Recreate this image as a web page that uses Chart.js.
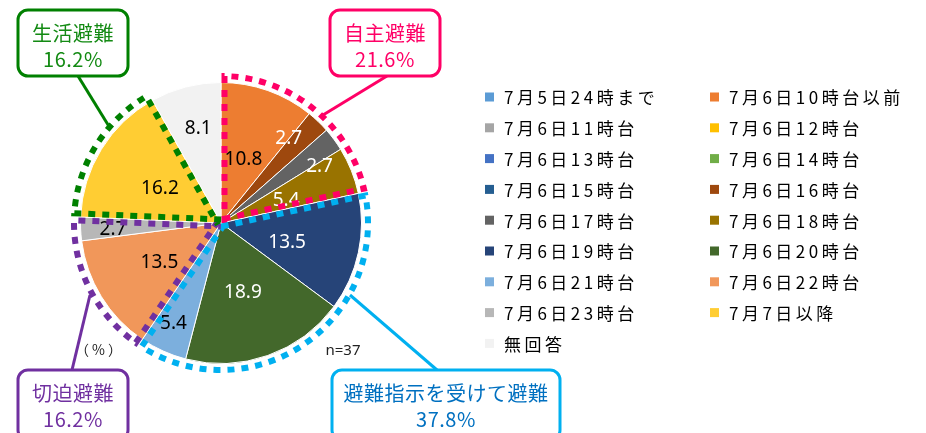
<!DOCTYPE html>
<html lang="ja">
<head>
<meta charset="utf-8">
<title>避難開始時刻</title>
<script src="https://cdn.jsdelivr.net/npm/chart.js@4.4.1/dist/chart.umd.min.js"></script>
<style>
  html, body { margin: 0; padding: 0; background: #fff; }
  #wrap { position: relative; width: 926px; height: 433px; }
</style>
</head>
<body>
<div id="wrap"><canvas id="evacChart" width="926" height="433"></canvas></div>
<script>
// Evacuation start time pie (n=37), values in %

const categories = [
    '7月5日24時まで', '7月6日10時台以前', '7月6日11時台', '7月6日12時台',
    '7月6日13時台', '7月6日14時台', '7月6日15時台', '7月6日16時台',
    '7月6日17時台', '7月6日18時台', '7月6日19時台', '7月6日20時台',
    '7月6日21時台', '7月6日22時台', '7月6日23時台', '7月7日以降', '無回答'
];
const shares = [0, 10.8, 0, 0, 0, 0, 0, 2.7, 2.7, 5.4, 13.5, 18.9, 5.4, 13.5, 2.7, 16.2, 8.1];
const sampleSize = 37;

// evacuation type groups: first / last category index of each
const groupNames = ['自主避難', '避難指示を受けて避難', '切迫避難', '生活避難'];
const groupShares = [21.6, 37.8, 16.2, 16.2];
const groupFirst = [1, 10, 13, 15];
const groupLast = [9, 12, 14, 15];

// --- styling ---
const sliceColors = [
    '#5B9BD5', '#ED7D31', '#A5A5A5', '#FFC000', '#4472C4', '#70AD47',
    '#255E91', '#9E480E', '#636363', '#997300', '#264478', '#43682B',
    '#7CAFDD', '#F1975A', '#B7B7B7', '#FFCD33', '#F2F2F2'
];
const groupColors = ['#FF0066', '#00B0F0', '#7030A0', '#008000'];

// label placement per slice: [fraction of radius, angle nudge in degrees]
const labelPlacement = [
    null, [0.48, 0], null, null, null, null, null, [0.77, -5],
    [0.81, 6.5], [0.49, 3], [0.49, 4], [0.52, 2], [0.79, 1],
    [0.52, -1], [0.77, -1], [0.50, -2], [0.69, 1]
];

// callout boxes: group index, box [x, y, w, h], connector from -> to
const callouts = [
    { group: 3, box: [18, 10, 110, 66], from: [78, 76], to: [110, 128], text: '#138A13' },
    { group: 0, box: [330, 10, 110, 66], from: [387, 76], to: [323, 115], text: '#FF0066' },
    { group: 2, box: [18, 370, 110, 70], from: [72, 370], to: [90, 295], text: '#7030A0' },
    { group: 1, box: [332, 370, 228, 70], from: [437, 370], to: [350, 295], text: '#0070C0' }
];

const JP_FONT = '"Noto Sans CJK JP", "Noto Sans", sans-serif';

function isDark(hex) {
    const r = parseInt(hex.slice(1, 3), 16);
    const g = parseInt(hex.slice(3, 5), 16);
    const b = parseInt(hex.slice(5, 7), 16);
    return 0.299 * r + 0.587 * g + 0.114 * b < 130;
}

const valueLabels = {
    id: 'valueLabels',
    afterDatasetsDraw(chart) {
        const ctx = chart.ctx;
        const meta = chart.getDatasetMeta(0);
        ctx.save();
        ctx.font = '19px "Noto Sans", sans-serif';
        ctx.textAlign = 'center';
        ctx.textBaseline = 'middle';
        meta.data.forEach((arc, i) => {
            if (!shares[i]) return;
            const p = labelPlacement[i];
            const a = (arc.startAngle + arc.endAngle) / 2 + p[1] * Math.PI / 180;
            const r = arc.outerRadius * p[0];
            ctx.fillStyle = isDark(sliceColors[i]) ? '#FFFFFF' : '#000000';
            ctx.fillText(shares[i].toFixed(1), arc.x + r * Math.cos(a), arc.y + r * Math.sin(a));
        });
        ctx.restore();
    }
};

// dotted sector outline around each evacuation group
const groupOutlines = {
    id: 'groupOutlines',
    afterDatasetsDraw(chart) {
        const ctx = chart.ctx;
        const arcs = chart.getDatasetMeta(0).data;
        const cx = arcs[0].x, cy = arcs[0].y;
        const R = arcs[0].outerRadius + 6.5;
        const d = 3.5;
        ctx.save();
        ctx.lineWidth = 6;
        ctx.setLineDash([7, 7]);
        groupNames.forEach((name, g) => {
            const a1 = arcs[groupFirst[g]].startAngle;
            const a2 = arcs[groupLast[g]].endAngle;
            const dl = Math.asin(d / R);
            const L = Math.sqrt(R * R - d * d);
            const n1x = -Math.sin(a1), n1y = Math.cos(a1);
            const n2x = Math.sin(a2), n2y = -Math.cos(a2);
            ctx.strokeStyle = groupColors[g];
            ctx.beginPath();
            ctx.moveTo(cx + d * n1x, cy + d * n1y);
            ctx.lineTo(cx + L * Math.cos(a1) + d * n1x, cy + L * Math.sin(a1) + d * n1y);
            ctx.arc(cx, cy, R, a1 + dl, a2 - dl);
            ctx.lineTo(cx + d * n2x, cy + d * n2y);
            ctx.stroke();
        });
        ctx.restore();
    }
};

const calloutBoxes = {
    id: 'calloutBoxes',
    afterDraw(chart) {
        const ctx = chart.ctx;
        ctx.save();
        callouts.forEach(c => {
            const [x, y, w, h] = c.box;
            ctx.strokeStyle = groupColors[c.group];
            ctx.lineWidth = 3;
            ctx.setLineDash([]);
            ctx.beginPath();
            ctx.moveTo(c.from[0], c.from[1]);
            ctx.lineTo(c.to[0], c.to[1]);
            ctx.stroke();

            ctx.beginPath();
            ctx.roundRect(x, y, w, h, 10);
            ctx.fillStyle = '#FFFFFF';
            ctx.fill();
            ctx.stroke();

            ctx.fillStyle = c.text;
            ctx.font = '20px ' + JP_FONT;
            ctx.textAlign = 'center';
            ctx.textBaseline = 'middle';
            ctx.letterSpacing = '0.5px';
            ctx.fillText(groupNames[c.group], x + w / 2, y + 23);
            ctx.fillText(groupShares[c.group].toFixed(1) + '%', x + w / 2, y + 49);
        });

        ctx.fillStyle = '#222222';
        ctx.font = '14px ' + JP_FONT;
        ctx.letterSpacing = '3px';
        ctx.fillText('（%）', 100, 350);
        ctx.letterSpacing = '0px';
        ctx.font = '15px "Noto Sans", sans-serif';
        ctx.fillText('n=' + sampleSize, 343, 351);
        ctx.restore();
    }
};

// two-column legend, filled row by row
const gridLegend = {
    id: 'gridLegend',
    afterDraw(chart) {
        const ctx = chart.ctx;
        const colors = chart.data.datasets[0].backgroundColor;
        ctx.save();
        ctx.font = '17px ' + JP_FONT;
        ctx.textAlign = 'left';
        ctx.textBaseline = 'middle';
        ctx.letterSpacing = '3.5px';
        chart.data.labels.forEach((label, i) => {
            const x = i % 2 ? 710 : 485;
            const y = 97 + Math.floor(i / 2) * 30.8;
            ctx.fillStyle = colors[i];
            ctx.fillRect(x, y - 4.5, 9, 9);
            ctx.fillStyle = '#000000';
            ctx.fillText(label, x + 19, y + 1);
        });
        ctx.restore();
    }
};

new Chart(document.getElementById('evacChart'), {
    type: 'pie',
    data: {
        labels: categories,
        datasets: [{
            data: shares,
            backgroundColor: sliceColors,
            borderColor: '#FFFFFF',
            borderWidth: shares.map(v => (v > 0 ? 1 : 0))
        }]
    },
    options: {
        responsive: false,
        devicePixelRatio: 1,
        animation: false,
        events: [],
        layout: { padding: { left: 80, right: 564, top: 82, bottom: 69 } },
        plugins: {
            legend: { display: false },
            tooltip: { enabled: false }
        }
    },
    plugins: [valueLabels, groupOutlines, calloutBoxes, gridLegend]
});
</script>
</body>
</html>
